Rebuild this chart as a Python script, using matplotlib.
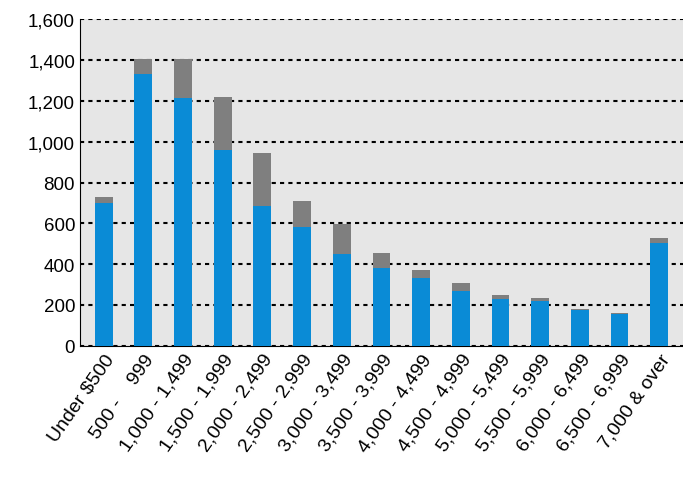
import matplotlib.pyplot as plt
import numpy as np

categories = ["Under $500", "500 -    999", "1,000 - 1,499", "1,500 - 1,999", "2,000 - 2,499",
              "2,500 - 2,999", "3,000 - 3,499", "3,500 - 3,999", "4,000 - 4,499", "4,500 - 4,999",
              "5,000 - 5,499", "5,500 - 5,999", "6,000 - 6,499", "6,500 - 6,999", "7,000 & over"]
blue_vals = [700, 1330, 1215, 960, 685, 580, 450, 380, 330, 270, 230, 220, 175, 155, 505]
total_vals = [730, 1405, 1405, 1220, 945, 710, 595, 455, 370, 310, 250, 235, 180, 160, 530]
gray_vals = [t - b for t, b in zip(total_vals, blue_vals)]

plt.rcParams['font.family'] = ['Liberation Sans', 'DejaVu Sans']
fig = plt.figure(figsize=(6.83, 4.85), dpi=100)
ax = fig.add_axes([0.117, 0.285, 0.883, 0.673])
x = np.arange(len(categories))
ax.set_facecolor('#E6E6E6')
ax.bar(x, blue_vals, width=0.45, color='#0A8BD6', zorder=3)
ax.bar(x, gray_vals, bottom=blue_vals, width=0.45, color='#7F7F7F', zorder=3)
ax.set_ylim(0, 1600)
ax.set_xlim(-0.6, len(categories) - 0.4)
ax.set_yticks(range(0, 1601, 200))
ax.set_yticklabels([f"{v:,}" for v in range(0, 1601, 200)], fontsize=13.5)
ax.yaxis.grid(True, linestyle=(0, (2, 2)), color='black', linewidth=1.5, zorder=1)
ax.set_xticks(x)
ax.set_xticklabels(categories, rotation=55, ha='right', rotation_mode='anchor', fontsize=14)
ax.tick_params(axis='both', length=0)
for s in ['top', 'right']:
    ax.spines[s].set_visible(False)
ax.spines['left'].set_color('black')
ax.spines['bottom'].set_color('black')
fig.savefig('out.png', dpi=100)
